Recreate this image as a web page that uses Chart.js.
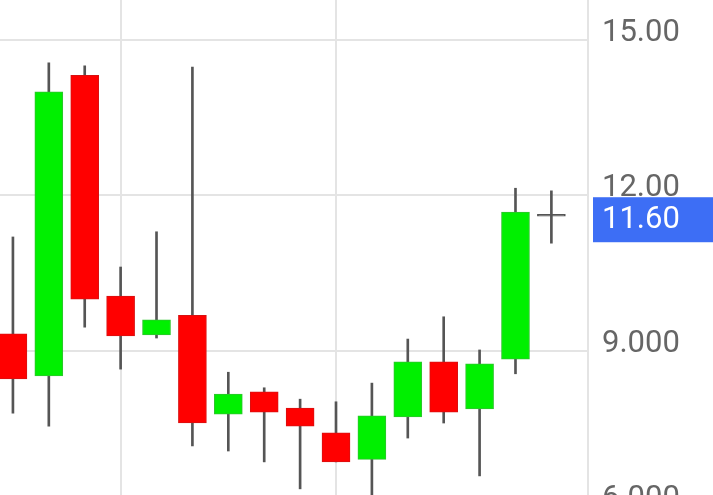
<!DOCTYPE html>
<html>
<head>
<meta charset="utf-8">
<script src="https://cdn.jsdelivr.net/npm/chart.js@4.4.1/dist/chart.umd.min.js"></script>
<style>
  html, body { margin: 0; padding: 0; background: #fff; overflow: hidden; }
  #wrap { width: 713px; height: 540px; position: relative; }
</style>
</head>
<body>
<div id="wrap"><canvas id="candleChart"></canvas></div>
<script>
// Datos de las velas
const opens  = [9.33, 8.52, 14.32, 10.06, 9.31, 9.69, 7.78, 8.21, 7.90, 7.42, 6.91, 7.73, 8.79, 7.88, 8.84, 11.60];
const closes = [8.46, 14.00, 10.00, 9.29, 9.60, 7.61, 8.17, 7.82, 7.55, 6.86, 7.75, 8.79, 7.82, 8.75, 11.68, 11.60];
const highs  = [11.20, 14.56, 14.50, 10.62, 11.30, 14.48, 8.59, 8.29, 8.07, 8.02, 8.38, 9.23, 9.66, 9.02, 12.14, 12.09];
const lows   = [7.80, 7.55, 9.46, 8.65, 9.25, 7.17, 7.07, 6.86, 6.34, 6.86, 6.05, 7.32, 7.61, 6.59, 8.56, 11.08];
const priceTicks = [6, 9, 12, 15];
const priceLabels = ['6.000', '9.000', '12.00', '15.00'];
const timeGridAt = [3, 9];
const lastPrice = 11.60;
const lastPriceLabel = '11.60';

document.addEventListener('DOMContentLoaded', function() {
  initializeCandleChart();
});

function candleColor(i, up, down, flat) {
  if (closes[i] > opens[i]) return up;
  if (closes[i] < opens[i]) return down;
  return flat;
}

function initializeCandleChart() {
  const ctx = document.getElementById('candleChart').getContext('2d');

  const bodies = opens.map((o, i) => ({ x: i, y: [o, closes[i]] }));
  const wicks = lows.map((l, i) => ({ x: i, y: [l, highs[i]] }));

  // Etiqueta del último precio
  const lastPricePlugin = {
    id: 'lastPrice',
    afterDraw(chart) {
      const c = chart.ctx;
      const y = chart.scales.y.getPixelForValue(lastPrice) + 3;
      c.save();
      c.fillStyle = '#3d6ef5';
      c.fillRect(593, y - 22, 120, 45);
      c.fillStyle = '#ffffff';
      c.font = '31px Roboto';
      c.textBaseline = 'middle';
      c.textAlign = 'left';
      c.fillText(lastPriceLabel, 602, y + 1);
      c.restore();
    }
  };

  window.candleChart = new Chart(ctx, {
    type: 'bar',
    data: {
      datasets: [{
        data: bodies,
        backgroundColor: opens.map((o, i) => candleColor(i, '#00f000', '#ff0000', '#555555')),
        borderColor: opens.map((o, i) => candleColor(i, '#2fc42f', '#d81010', '#555555')),
        borderWidth: 1,
        borderSkipped: false,
        barThickness: 28,
        minBarLength: 2,
        grouped: false
      }, {
        data: wicks,
        backgroundColor: '#555555',
        borderWidth: 0,
        barThickness: 2,
        grouped: false
      }]
    },
    options: {
      responsive: true,
      maintainAspectRatio: false,
      animation: false,
      layout: { padding: 0 },
      scales: {
        x: {
          type: 'linear',
          offset: false,
          min: -0.36,
          max: 16.02,
          afterBuildTicks: function(scale) {
            scale.ticks = timeGridAt.map(v => ({ value: v }));
          },
          afterFit: function(scale) {
            scale.paddingLeft = 0;
            scale.paddingRight = 0;
          },
          ticks: { display: false },
          grid: { offset: false, color: '#e4e4e4', lineWidth: 2, drawTicks: false },
          border: { display: false }
        },
        y: {
          position: 'right',
          min: 5.353,
          max: 15.772,
          afterBuildTicks: function(scale) {
            scale.ticks = priceTicks.map(v => ({ value: v }));
          },
          afterFit: function(scale) {
            scale.width = 125;
            scale.paddingTop = 0;
            scale.paddingBottom = 0;
          },
          ticks: {
            padding: 14,
            labelOffset: -7,
            color: '#666666',
            font: { family: 'Roboto', size: 31 },
            callback: function(value) {
              const k = priceTicks.indexOf(value);
              return k >= 0 ? priceLabels[k] : '';
            }
          },
          grid: { color: '#e4e4e4', lineWidth: 2, drawTicks: false },
          border: { display: true, color: '#e4e4e4', width: 2 }
        }
      },
      plugins: {
        legend: { display: false },
        tooltip: { enabled: false }
      }
    },
    plugins: [lastPricePlugin]
  });
}
</script>
</body>
</html>
